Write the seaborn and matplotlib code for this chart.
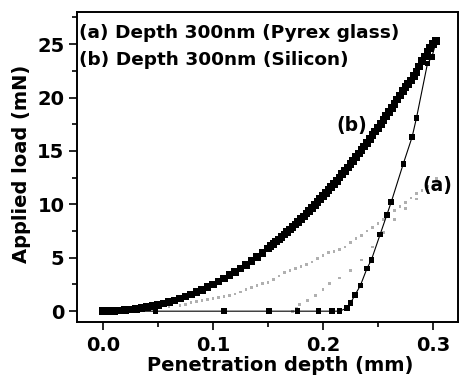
import numpy as np
import pandas as pd
import matplotlib
matplotlib.use("Agg")
import matplotlib.pyplot as plt
import seaborn as sns
from matplotlib.ticker import MultipleLocator

# ---- data ----
# (b) Silicon, loading branch
b_load_depth = [0.000, 0.005, 0.010, 0.015, 0.020, 0.025, 0.030, 0.035, 0.040, 0.045,
                0.050, 0.055, 0.060, 0.065, 0.070, 0.075, 0.080, 0.085, 0.090, 0.095,
                0.100, 0.105, 0.110, 0.115, 0.120, 0.125, 0.130, 0.135, 0.140, 0.145,
                0.150, 0.1525, 0.155, 0.1575, 0.160, 0.1625, 0.165, 0.1675, 0.170, 0.1725,
                0.175, 0.1775, 0.180, 0.1825, 0.185, 0.1875, 0.190, 0.1925, 0.195, 0.1975,
                0.200, 0.2025, 0.205, 0.2075, 0.210, 0.2125, 0.215, 0.2175, 0.220, 0.2225,
                0.225, 0.2275, 0.230, 0.2325, 0.235, 0.2375, 0.240, 0.2425, 0.245, 0.2475,
                0.250, 0.2525, 0.255, 0.2575, 0.260, 0.2625, 0.265, 0.2675, 0.270, 0.2725,
                0.275, 0.2775, 0.280, 0.2825, 0.285, 0.2875, 0.290, 0.2925, 0.295, 0.2975,
                0.300, 0.303]
b_load_force = [0.00, 0.01, 0.02, 0.05, 0.09, 0.14, 0.20, 0.28, 0.37, 0.47,
                0.59, 0.71, 0.86, 1.01, 1.19, 1.37, 1.57, 1.78, 2.01, 2.25,
                2.51, 2.78, 3.06, 3.36, 3.68, 4.01, 4.35, 4.71, 5.09, 5.47,
                5.88, 6.09, 6.30, 6.51, 6.73, 6.95, 7.18, 7.41, 7.65, 7.88,
                8.12, 8.37, 8.62, 8.87, 9.13, 9.39, 9.66, 9.93, 10.20, 10.48,
                10.76, 11.04, 11.33, 11.62, 11.91, 12.21, 12.52, 12.83, 13.14, 13.45,
                13.77, 14.09, 14.42, 14.75, 15.09, 15.43, 15.77, 16.12, 16.47, 16.82,
                17.18, 17.54, 17.91, 18.28, 18.66, 19.04, 19.42, 19.81, 20.20, 20.60,
                20.99, 21.30, 21.60, 22.00, 22.40, 22.90, 23.40, 23.85, 24.30, 24.65,
                25.00, 25.30]
# (b) Silicon, unloading branch
b_unload_depth = [0.303, 0.299, 0.295, 0.285, 0.281, 0.273, 0.262, 0.258, 0.252, 0.244,
                  0.240, 0.234, 0.229, 0.225, 0.222, 0.215, 0.208, 0.196, 0.177, 0.151,
                  0.110, 0.048, 0.000]
b_unload_force = [25.3, 23.8, 23.2, 18.1, 16.3, 13.8, 10.2, 9.0, 7.2, 4.8,
                  4.0, 2.4, 1.5, 0.75, 0.3, 0.0, 0.0, 0.0, 0.0, 0.0,
                  0.0, 0.0, 0.0]
# (a) Pyrex glass, loading branch
a_load_depth = [0.000, 0.010, 0.020, 0.030, 0.040, 0.050, 0.060, 0.070, 0.075, 0.080,
                0.085, 0.090, 0.095, 0.100, 0.105, 0.110, 0.115, 0.120, 0.125, 0.130,
                0.135, 0.140, 0.145, 0.150, 0.155, 0.160, 0.165, 0.170, 0.175, 0.180,
                0.185, 0.190, 0.195, 0.200, 0.205, 0.210, 0.215, 0.220, 0.225, 0.230,
                0.235, 0.240, 0.245, 0.250, 0.255, 0.260, 0.265, 0.270, 0.275, 0.280,
                0.285, 0.290, 0.295, 0.300, 0.303]
a_load_force = [0.00, 0.02, 0.06, 0.12, 0.20, 0.30, 0.40, 0.50, 0.60, 0.80,
                0.90, 1.00, 1.10, 1.20, 1.30, 1.40, 1.50, 1.60, 1.80, 2.00,
                2.20, 2.40, 2.60, 2.70, 3.00, 3.30, 3.60, 3.80, 4.00, 4.20,
                4.40, 4.60, 4.90, 5.20, 5.50, 5.60, 5.80, 6.00, 6.40, 6.80,
                7.10, 7.50, 7.80, 8.20, 8.60, 9.00, 9.40, 9.80, 10.20, 10.60,
                11.00, 11.30, 11.70, 12.10, 12.40]
# (a) Pyrex glass, unloading branch
a_unload_depth = [0.303, 0.295, 0.285, 0.275, 0.265, 0.255, 0.245, 0.235, 0.225, 0.215,
                  0.206, 0.200, 0.193, 0.186, 0.179, 0.176, 0.172]
a_unload_force = [12.4, 11.3, 10.5, 9.6, 8.6, 7.4, 6.0, 4.8, 3.8, 3.1,
                  2.6, 2.0, 1.5, 1.0, 0.6, 0.3, 0.0]

x_ticks = [0.0, 0.1, 0.2, 0.3]
y_ticks = [0, 5, 10, 15, 20, 25]
legend_lines = ["(a) Depth 300nm (Pyrex glass)", "(b) Depth 300nm (Silicon)"]

# ---- figure ----
sns.set_theme(style="ticks")
plt.rcParams["font.family"] = ["DejaVu Sans"]
plt.rcParams["font.weight"] = "bold"
plt.rcParams["text.color"] = "black"
plt.rcParams["axes.labelcolor"] = "black"
plt.rcParams["xtick.color"] = "black"
plt.rcParams["ytick.color"] = "black"

fig = plt.figure(figsize=(4.64, 3.80), dpi=100)
ax = fig.add_axes([0.166, 0.153, 0.821, 0.815])

df_al = pd.DataFrame({"d": a_load_depth, "f": a_load_force})
df_au = pd.DataFrame({"d": a_unload_depth, "f": a_unload_force})
df_bl = pd.DataFrame({"d": b_load_depth, "f": b_load_force})
df_bu = pd.DataFrame({"d": b_unload_depth, "f": b_unload_force})

gray = "#b0b0b0"
sns.scatterplot(data=df_al, x="d", y="f", ax=ax, marker="s", s=4, color=gray,
                edgecolor="none", zorder=2)
sns.scatterplot(data=df_au, x="d", y="f", ax=ax, marker="s", s=4, color=gray,
                edgecolor="none", zorder=2)

sns.lineplot(data=df_bu, x="d", y="f", ax=ax, sort=False, estimator=None,
             color="black", lw=0.8, zorder=3)
sns.scatterplot(data=df_bu, x="d", y="f", ax=ax, marker="s", s=16, color="black",
                edgecolor="none", zorder=4)
sns.scatterplot(data=df_bl, x="d", y="f", ax=ax, marker="s", s=30, color="black",
                edgecolor="none", zorder=5)

ax.set_xlim(-0.0235, 0.3227)
ax.set_ylim(-1.0, 28.0)
ax.set_xticks(x_ticks)
ax.set_xticklabels([f"{v:.1f}" for v in x_ticks])
ax.set_yticks(y_ticks)
ax.set_yticklabels([str(v) for v in y_ticks])
ax.xaxis.set_minor_locator(MultipleLocator(0.05))
ax.yaxis.set_minor_locator(MultipleLocator(2.5))
ax.tick_params(which="major", direction="out", length=6, width=1.2,
               labelsize=14, pad=3, top=False, right=False)
ax.tick_params(axis="x", which="major", pad=4)
ax.tick_params(which="minor", direction="out", length=3.5, width=1.2,
               top=False, right=False)
for lab in ax.get_xticklabels() + ax.get_yticklabels():
    lab.set_fontweight("bold")
for sp in ax.spines.values():
    sp.set_visible(True)
    sp.set_linewidth(1.4)
    sp.set_color("black")

ax.set_xlabel("Penetration depth (mm)", fontsize=14, fontweight="bold")
ax.set_ylabel("Applied load (mN)", fontsize=14, fontweight="bold")
ax.xaxis.set_label_coords(0.534, -0.11)
ax.yaxis.set_label_coords(-0.12, 0.51)

ax.text(0.005, 0.932, legend_lines[0], transform=ax.transAxes, fontsize=13.3,
        fontweight="bold", ha="left", va="center")
ax.text(0.005, 0.845, legend_lines[1], transform=ax.transAxes, fontsize=13.3,
        fontweight="bold", ha="left", va="center")
ax.text(0.226, 17.4, "(b)", fontsize=13.5, fontweight="bold", ha="center", va="center")
ax.text(0.304, 11.8, "(a)", fontsize=13.5, fontweight="bold", ha="center", va="center")

fig.savefig("out.png", dpi=100)
